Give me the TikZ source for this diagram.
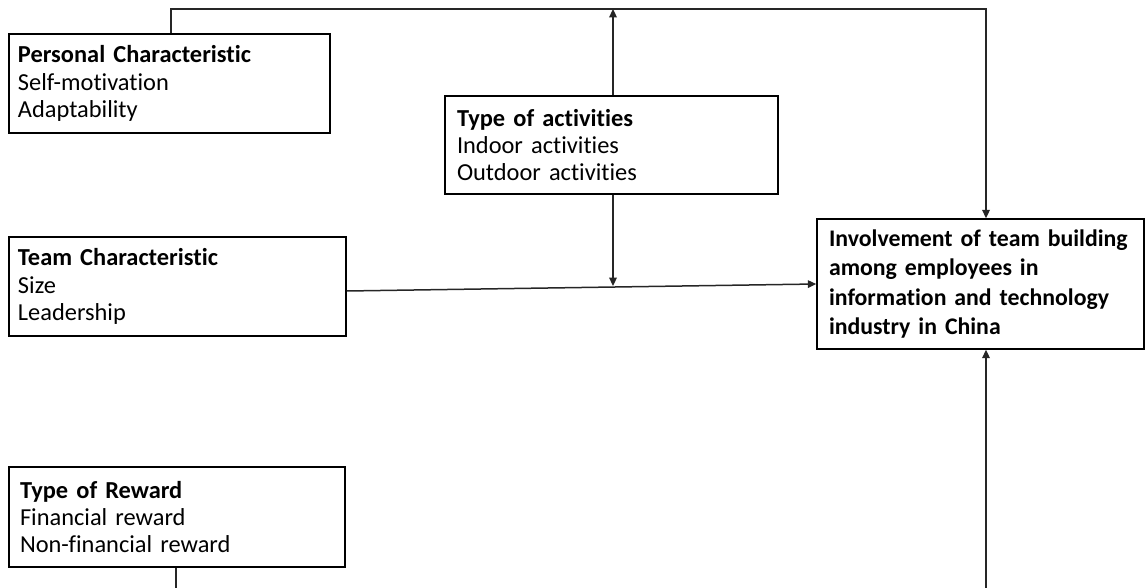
\documentclass[tikz,border=0pt]{standalone}
\usepackage{fontspec}
\setmainfont{Carlito}[Ligatures=NoCommon, WordSpace=0.85]
\usetikzlibrary{arrows.meta}
\begin{document}
\begin{tikzpicture}[x=0.5pt,y=-0.5pt,
  box/.style={draw=black, line width=0.75pt, align=left, anchor=center,
    inner xsep=4.5pt, inner ysep=0pt,
    font=\fontsize{12.2pt}{13.6pt}\selectfont},
  link/.style={line width=0.75pt, draw=black!85},
  tip/.style={-{Triangle[length=4.2pt,width=3.8pt]}}]
  \useasboundingbox (0,0) rectangle (1145,588);

  % factor boxes
  \node[box, text width=151.5pt, minimum height=49.5pt] (pers) at (169.5,83.5)
    {\textbf{Personal Characteristic}\\Self-motivation\\Adaptability};
  \node[box, inner xsep=6pt, text width=154.5pt, minimum height=49pt] (act) at (611.5,145)
    {\textbf{Type of activities}\\Indoor activities\\Outdoor activities};
  \node[box, text width=159.5pt, minimum height=49.5pt] (team) at (177.5,286.5)
    {\textbf{Team Characteristic}\\Size\\Leadership};
  \node[box, inner xsep=5.5pt, text width=157pt, minimum height=50pt] (rew) at (177,517)
    {\textbf{Type of Reward}\\Financial reward\\Non-financial reward};

  % outcome box
  \node[box, inner xsep=6pt, text width=151.5pt, minimum height=65pt,
    font=\fontsize{11.9pt}{14.7pt}\selectfont\bfseries] (main) at (980.5,284)
    {Involvement of team building\\among employees in\\information and technology\\industry in China};

  % routing points
  \coordinate (tl) at (171,9);
  \coordinate (tr) at (986,9);
  \coordinate (ax) at (613,9);
  \coordinate (ajoin) at (613,286);
  \coordinate (bl) at (176,588);
  \coordinate (br) at (986,588);

  % connectors
  \draw[link, tip] (pers.north -| tl) -- (tl) -- (tr) -- (main.north -| tr);
  \draw[link, tip] (act.north -| ax) -- (ax);
  \draw[link, tip] (act.south -| ax) -- (ajoin);
  \draw[link, tip] ([yshift=-2.25pt]team.east) -- (main.west);
  \draw[link] (rew.south -| bl) -- (bl);
  \draw[link, tip] (br) -- (main.south -| br);
\end{tikzpicture}
\end{document}
